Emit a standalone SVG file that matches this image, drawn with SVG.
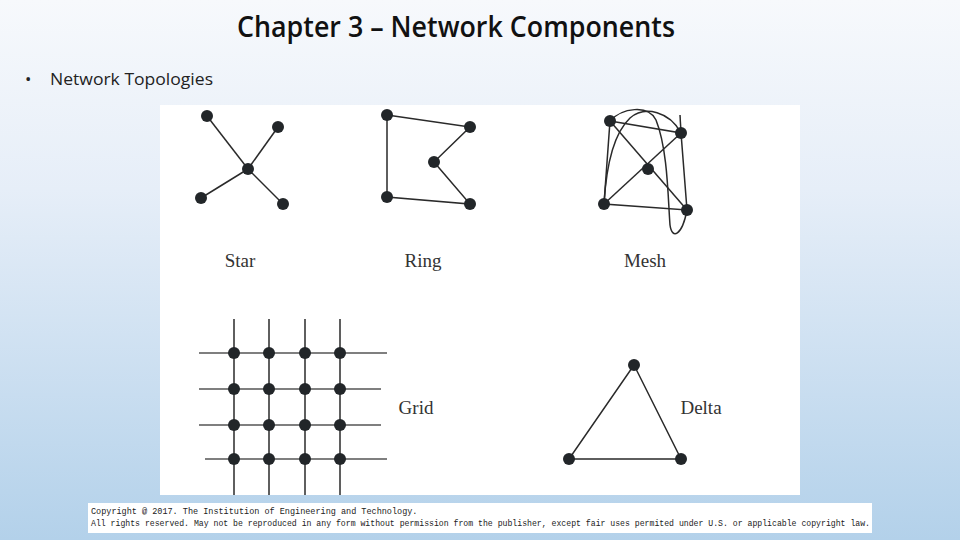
<svg xmlns="http://www.w3.org/2000/svg" width="960" height="540" viewBox="0 0 960 540">
<defs>
<linearGradient id="bg" x1="0" y1="0" x2="0" y2="1">
<stop offset="0" stop-color="#f7f9fc"/>
<stop offset="0.35" stop-color="#e6eef8"/>
<stop offset="1" stop-color="#b3d1ea"/>
</linearGradient>
<style>
.n{fill:#222629}
.e{stroke:#2a2a2a;stroke-width:1.5;fill:none}
.g{stroke:#555;stroke-width:1.5;fill:none}
.lbl{font-family:"Liberation Serif",serif;font-size:19px;fill:#333}
.cp{font-family:"Liberation Mono",monospace;font-size:8.5px;fill:#222}
</style>
</defs>
<rect width="960" height="540" fill="url(#bg)"/>
<text x="456" y="37" text-anchor="middle" font-family="Open Sans, sans-serif" font-weight="600" font-size="29" fill="#111" textLength="438" lengthAdjust="spacingAndGlyphs">Chapter 3 – Network Components</text>
<text x="25" y="85" font-family="Open Sans, sans-serif" font-size="17" fill="#222">•</text>
<text x="50" y="85" font-family="Open Sans, sans-serif" font-size="16.5" fill="#222" textLength="163" lengthAdjust="spacingAndGlyphs">Network Topologies</text>
<rect x="160" y="105" width="640" height="390" fill="#ffffff"/>
<g id="connectors">
<g id="star-edges">
<line class="e" x1="207" y1="116" x2="248" y2="169"/>
<line class="e" x1="278" y1="127" x2="248" y2="169"/>
<line class="e" x1="201" y1="198" x2="248" y2="169"/>
<line class="e" x1="283" y1="204" x2="248" y2="169"/>
</g>
<g id="ring-edges">
<polygon class="e" points="387,115 470,127 434,162 470,204 387,197"/>
</g>
<g id="mesh-edges">
<polygon class="e" points="610,121 681,133 687,210 604,204"/>
<line class="e" x1="610" y1="121" x2="687" y2="210"/>
<line class="e" x1="681" y1="133" x2="604" y2="204"/>
<line class="e" x1="681" y1="133" x2="680" y2="115"/>
<path class="e" d="M610,121 C622,108 648,104 656,120 C668,150 668,200 670,225 C672,240 682,236 687,210"/>
<path class="e" d="M604,204 C606,170 612,135 630,118 C645,105 670,112 681,133"/>
</g>
<g id="grid-edges">
<line class="e" x1="234" y1="319" x2="234" y2="495"/>
<line class="e" x1="269" y1="319" x2="269" y2="495"/>
<line class="e" x1="305" y1="319" x2="305" y2="495"/>
<line class="e" x1="340" y1="319" x2="340" y2="495"/>
<line class="g" x1="199" y1="353" x2="387" y2="353"/>
<line class="g" x1="199" y1="389" x2="381" y2="389"/>
<line class="g" x1="199" y1="425" x2="381" y2="425"/>
<line class="g" x1="205" y1="459" x2="387" y2="459"/>
</g>
<g id="delta-edges">
<polygon class="e" points="634,365 681,459 569,459"/>
</g>
</g>
<g id="star">
<circle class="n" cx="207" cy="116" r="6"/>
<circle class="n" cx="278" cy="127" r="6"/>
<circle class="n" cx="248" cy="169" r="6"/>
<circle class="n" cx="201" cy="198" r="6"/>
<circle class="n" cx="283" cy="204" r="6"/>
<text class="lbl" x="240" y="267" text-anchor="middle">Star</text>
</g>
<g id="ring">
<circle class="n" cx="387" cy="115" r="6"/>
<circle class="n" cx="470" cy="127" r="6"/>
<circle class="n" cx="434" cy="162" r="6"/>
<circle class="n" cx="387" cy="197" r="6"/>
<circle class="n" cx="470" cy="204" r="6"/>
<text class="lbl" x="423" y="267" text-anchor="middle">Ring</text>
</g>
<g id="mesh">
<circle class="n" cx="610" cy="121" r="6"/>
<circle class="n" cx="681" cy="133" r="6"/>
<circle class="n" cx="648" cy="169" r="6"/>
<circle class="n" cx="604" cy="204" r="6"/>
<circle class="n" cx="687" cy="210" r="6"/>
<text class="lbl" x="645" y="267" text-anchor="middle">Mesh</text>
</g>
<g id="grid">
<circle class="n" cx="234" cy="353" r="6"/><circle class="n" cx="269" cy="353" r="6"/><circle class="n" cx="305" cy="353" r="6"/><circle class="n" cx="340" cy="353" r="6"/>
<circle class="n" cx="234" cy="389" r="6"/><circle class="n" cx="269" cy="389" r="6"/><circle class="n" cx="305" cy="389" r="6"/><circle class="n" cx="340" cy="389" r="6"/>
<circle class="n" cx="234" cy="425" r="6"/><circle class="n" cx="269" cy="425" r="6"/><circle class="n" cx="305" cy="425" r="6"/><circle class="n" cx="340" cy="425" r="6"/>
<circle class="n" cx="234" cy="459" r="6"/><circle class="n" cx="269" cy="459" r="6"/><circle class="n" cx="305" cy="459" r="6"/><circle class="n" cx="340" cy="459" r="6"/>
<text class="lbl" x="416" y="414" text-anchor="middle">Grid</text>
</g>
<g id="delta">
<circle class="n" cx="634" cy="365" r="6"/>
<circle class="n" cx="569" cy="459" r="6"/>
<circle class="n" cx="681" cy="459" r="6"/>
<text class="lbl" x="701" y="414" text-anchor="middle">Delta</text>
</g>
<g id="copyright">
<rect x="88" y="503" width="784" height="30" fill="#ffffff"/>
<text class="cp" x="91" y="514">Copyright @ 2017. The Institution of Engineering and Technology.</text>
<text class="cp" x="91" y="526" textLength="779" lengthAdjust="spacingAndGlyphs">All rights reserved. May not be reproduced in any form without permission from the publisher, except fair uses permited under U.S. or applicable copyright law.</text>
</g>
</svg>
